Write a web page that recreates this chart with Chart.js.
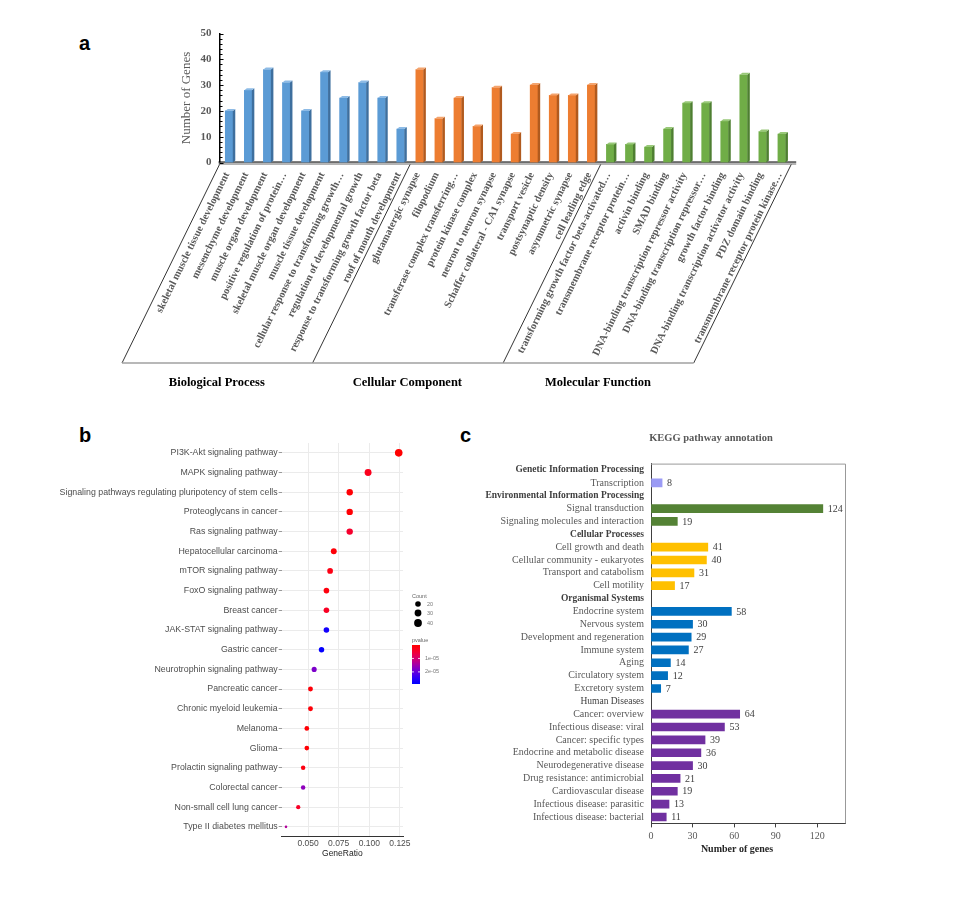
<!DOCTYPE html>
<html>
<head>
<meta charset="utf-8">
<script src="https://cdn.jsdelivr.net/npm/chart.js@4.4.1/dist/chart.umd.min.js"></script>
<style>
  body { margin: 0; background: #fff; width: 954px; height: 909px; position: relative; overflow: hidden; }
  canvas, .tag { position: absolute; }
  .tag { font: bold 20px "Liberation Sans", Arial, sans-serif; line-height: 20px; color: #000; }
</style>
</head>
<body>
<div class="tag" style="left:79px;top:33px">a</div>
<div class="tag" style="left:79px;top:425px">b</div>
<div class="tag" style="left:460px;top:425px">c</div>
<canvas id="goChart" width="710" height="380" style="left:100px;top:25px"></canvas>
<canvas id="dotChart" width="420" height="430" style="left:50px;top:436px"></canvas>
<canvas id="keggChart" width="390" height="440" style="left:470px;top:425px"></canvas>
<script>
// ---------- panel a : GO terms ----------
const goTerms = [
  "skeletal muscle tissue development", "mesenchyme development", "muscle organ development",
  "positive regulation of protein…", "skeletal muscle organ development", "muscle tissue development",
  "cellular response to transforming growth…", "regulation of developmental growth",
  "response to transforming growth factor beta", "roof of mouth development",
  "glutamatergic synapse", "filopodium", "transferase complex transferring…", "protein kinase complex",
  "neuron to neuron synapse", "Schaffer collateral - CA1 synapse", "transport vesicle",
  "postsynaptic density", "asymmetric synapse", "cell leading edge",
  "transforming growth factor beta-activated…", "transmembrane receptor protein…", "activin binding",
  "SMAD binding", "DNA-binding transcription repressor activity", "DNA-binding transcription repressor…",
  "growth factor binding", "DNA-binding transcription activator activity", "PDZ domain binding",
  "transmembrane receptor protein kinase…"
];
const goCounts = [20, 28, 36, 31, 20, 35, 25, 31, 25, 13,
                  36, 17, 25, 14, 29, 11, 30, 26, 26, 30,
                  7, 7, 6, 13, 23, 23, 16, 34, 12, 11];
const goGroups = ["Biological Process", "Cellular Component", "Molecular Function"];
const goGroupSizes = [10, 10, 10];

// ---------- panel b : KEGG dot plot ----------
const dotPathways = [
  "PI3K-Akt signaling pathway", "MAPK signaling pathway",
  "Signaling pathways regulating pluripotency of stem cells", "Proteoglycans in cancer",
  "Ras signaling pathway", "Hepatocellular carcinoma", "mTOR signaling pathway",
  "FoxO signaling pathway", "Breast cancer", "JAK-STAT signaling pathway", "Gastric cancer",
  "Neurotrophin signaling pathway", "Pancreatic cancer", "Chronic myeloid leukemia", "Melanoma",
  "Glioma", "Prolactin signaling pathway", "Colorectal cancer", "Non-small cell lung cancer",
  "Type II diabetes mellitus"
];
const geneRatio = [0.124, 0.099, 0.084, 0.084, 0.084, 0.071, 0.068, 0.065, 0.065, 0.065,
                   0.061, 0.055, 0.052, 0.052, 0.049, 0.049, 0.046, 0.046, 0.042, 0.032];
const geneCount = [38, 31, 26, 26, 26, 22, 21, 20, 20, 20, 19, 17, 16, 16, 15, 15, 14, 14, 13, 10];
const pValue = [0.01e-5, 0.30e-5, 0.06e-5, 0.06e-5, 0.45e-5, 0.09e-5, 0.21e-5, 0.15e-5, 0.36e-5, 2.70e-5,
                2.85e-5, 1.80e-5, 0.09e-5, 0.09e-5, 0.06e-5, 0.06e-5, 0.18e-5, 1.65e-5, 0.39e-5, 1.35e-5];
const countBreaks = [20, 30, 40];
const pBreaks = [1e-5, 2e-5];

// ---------- panel c : KEGG classes ----------
const keggClasses = ["Genetic Information Processing", "Environmental Information Processing",
  "Cellular Processes", "Organismal Systems", "Human Diseases"];
const keggPathways = [
  "Transcription",
  "Signal transduction", "Signaling molecules and interaction",
  "Cell growth and death", "Cellular community - eukaryotes", "Transport and catabolism", "Cell motility",
  "Endocrine system", "Nervous system", "Development and regeneration", "Immune system", "Aging",
  "Circulatory system", "Excretory system",
  "Cancer: overview", "Infectious disease: viral", "Cancer: specific types", "Endocrine and metabolic disease",
  "Neurodegenerative disease", "Drug resistance: antimicrobial", "Cardiovascular disease",
  "Infectious disease: parasitic", "Infectious disease: bacterial"
];
const keggCounts = [8, 124, 19, 41, 40, 31, 17, 58, 30, 29, 27, 14, 12, 7, 64, 53, 39, 36, 30, 21, 19, 13, 11];
const keggClassOf = [0, 1, 1, 2, 2, 2, 2, 3, 3, 3, 3, 3, 3, 3, 4, 4, 4, 4, 4, 4, 4, 4, 4];

const SERIF = "'Liberation Serif', 'Times New Roman', serif";
const SANS = "'Liberation Sans', Arial, sans-serif";

// ================= panel a =================
const goFront = ["#5B9BD5", "#ED7D31", "#70AD47"];
const goSide = ["#3E6F9E", "#B15A1E", "#4E7F31"];
const goTop = ["#8DBBE6", "#F4A46E", "#98C878"];
const goGroupOf = [];
goGroupSizes.forEach((n, g) => { for (let k = 0; k < n; k++) goGroupOf.push(g); });

const goDecor = {
  id: "goDecor",
  beforeDatasetsDraw(chart) {
    const { ctx, chartArea: a, scales: { y } } = chart;
    const y0 = y.getPixelForValue(0);
    ctx.save();
    ctx.fillStyle = "#B4B4B4";
    ctx.fillRect(a.left - 1, y0, a.right - a.left + 6, 2.5);
    ctx.strokeStyle = "#000";
    ctx.lineWidth = 1.2;
    ctx.beginPath();
    ctx.moveTo(a.left - 1, y0 - 0.5);
    ctx.lineTo(a.right + 5, y0 - 0.5);
    ctx.stroke();
    // small minor ticks on the value axis
    ctx.lineWidth = 1;
    for (let v = 0; v <= 50; v += 2) {
      const py = Math.round(y.getPixelForValue(v)) + 0.5;
      ctx.beginPath();
      ctx.moveTo(a.left, py);
      ctx.lineTo(a.left + (v % 10 === 0 ? 4 : 3), py);
      ctx.stroke();
    }
    ctx.restore();
  },
  afterDatasetsDraw(chart) {
    const ctx = chart.ctx;
    const dx = 2.5, dy = 2;
    ctx.save();
    chart.getDatasetMeta(0).data.forEach((bar, i) => {
      const g = goGroupOf[i];
      const hw = bar.width / 2;
      const r = bar.x + hw, l = bar.x - hw;
      ctx.fillStyle = goSide[g];
      ctx.beginPath();
      ctx.moveTo(r, bar.y); ctx.lineTo(r + dx, bar.y - dy);
      ctx.lineTo(r + dx, bar.base - dy); ctx.lineTo(r, bar.base);
      ctx.closePath(); ctx.fill();
      ctx.fillStyle = goTop[g];
      ctx.beginPath();
      ctx.moveTo(l, bar.y); ctx.lineTo(l + dx, bar.y - dy);
      ctx.lineTo(r + dx, bar.y - dy); ctx.lineTo(r, bar.y);
      ctx.closePath(); ctx.fill();
    });
    ctx.restore();
  },
  afterDraw(chart) {
    const { ctx, scales: { x, y } } = chart;
    const y0 = y.getPixelForValue(0);
    ctx.save();
    // rotated category labels
    ctx.font = "bold 10.5px " + SERIF;
    ctx.fillStyle = "#595959";
    ctx.textAlign = "right";
    ctx.textBaseline = "middle";
    goTerms.forEach((t, i) => {
      ctx.save();
      ctx.translate(x.getPixelForValue(i) - 2, y0 + 10.5);
      ctx.rotate(-64 * Math.PI / 180);
      ctx.fillText(t, 0, 0);
      ctx.restore();
    });
    // slanted group separators
    const bounds = [-0.5];
    let acc = -0.5;
    goGroupSizes.forEach(n => { acc += n; bounds.push(acc); });
    const tops = bounds.map(b => x.getPixelForValue(b));
    const yTop = y0 + 2, yBot = y0 + 200.5, shift = -97.5;
    ctx.strokeStyle = "#000";
    ctx.lineWidth = 0.8;
    tops.forEach(px => {
      ctx.beginPath();
      ctx.moveTo(px, yTop);
      ctx.lineTo(px + shift, yBot);
      ctx.stroke();
    });
    ctx.strokeStyle = "#A0A0A0";
    ctx.lineWidth = 1.5;
    ctx.beginPath();
    ctx.moveTo(tops[0] + shift, yBot);
    ctx.lineTo(tops[tops.length - 1] + shift, yBot);
    ctx.stroke();
    // group names
    ctx.font = "bold 12.5px " + SERIF;
    ctx.fillStyle = "#000";
    ctx.textAlign = "center";
    goGroups.forEach((name, g) => {
      ctx.fillText(name, (tops[g] + tops[g + 1]) / 2 - 98, y0 + 220);
    });
    // value axis title
    ctx.save();
    ctx.translate(87, 73);
    ctx.rotate(-Math.PI / 2);
    ctx.font = "13px " + SERIF;
    ctx.fillStyle = "#595959";
    ctx.fillText("Number of Genes", 0, 0);
    ctx.restore();
    ctx.restore();
  }
};

new Chart(document.getElementById("goChart"), {
  type: "bar",
  data: {
    labels: goTerms,
    datasets: [{
      data: goCounts,
      backgroundColor: goGroupOf.map(g => goFront[g]),
      borderWidth: 0,
      barThickness: 7.5
    }]
  },
  options: {
    responsive: false,
    animation: false,
    layout: { padding: { top: 8.5, right: 18.8, bottom: 242.5, left: 0 } },
    plugins: { legend: { display: false }, tooltip: { enabled: false } },
    scales: {
      x: { display: false },
      y: {
        min: 0, max: 50,
        grid: { display: false, drawTicks: false },
        border: { display: true, color: "#000", width: 1.5 },
        ticks: { stepSize: 10, padding: 8, color: "#595959", font: { family: SERIF, size: 11, weight: "bold" } },
        afterFit: s => { s.width = 119.5; s.paddingTop = 0; s.paddingBottom = 0; }
      }
    }
  },
  plugins: [goDecor]
});

// ================= panel b =================
const cMin = Math.min(...geneCount), cMax = Math.max(...geneCount);
const pMax = 2.9e-5;
const radiusOf = c => 1.3 + Math.sqrt(Math.max(0, Math.min(1.1, (c - cMin) / (cMax - cMin)))) * 2.5;
const colourOf = p => {
  const t = Math.max(0, Math.min(1, p / pMax));
  const bump = 1 + 0.3 * Math.sin(Math.PI * t);
  const r = Math.min(255, 255 * (1 - t) * bump), b = Math.min(255, 255 * t * bump);
  return `rgb(${Math.round(r)},0,${Math.round(b)})`;
};

const dotLegend = {
  id: "dotLegend",
  afterDraw(chart) {
    const { ctx, chartArea: a } = chart;
    ctx.save();
    ctx.font = "8.5px " + SANS;
    ctx.fillStyle = "#1A1A1A";
    ctx.textAlign = "center";
    ctx.textBaseline = "middle";
    ctx.fillText("GeneRatio", (a.left + a.right) / 2, 418);
    // size legend
    ctx.font = "5.5px " + SANS;
    ctx.fillStyle = "#666";
    ctx.textAlign = "left";
    ctx.fillText("Count", 362, 160);
    const ys = [168, 177, 187];
    countBreaks.forEach((c, i) => {
      ctx.fillStyle = "#000";
      ctx.beginPath();
      ctx.arc(368, ys[i], radiusOf(c), 0, Math.PI * 2);
      ctx.fill();
      ctx.fillStyle = "#777";
      ctx.fillText(String(c), 377, ys[i]);
    });
    // colour legend
    ctx.fillStyle = "#666";
    ctx.fillText("pvalue", 362, 204);
    const top = 209, bot = 248;
    const grad = ctx.createLinearGradient(0, top, 0, bot);
    for (let k = 0; k <= 10; k++) grad.addColorStop(k / 10, colourOf(pMax * k / 10));
    ctx.fillStyle = grad;
    ctx.fillRect(362, top, 8, bot - top);
    pBreaks.forEach(p => {
      const py = top + (bot - top) * p / pMax;
      ctx.strokeStyle = "#fff";
      ctx.lineWidth = 0.8;
      ctx.beginPath();
      ctx.moveTo(362, py); ctx.lineTo(364, py);
      ctx.moveTo(368, py); ctx.lineTo(370, py);
      ctx.stroke();
      ctx.fillStyle = "#777";
      ctx.fillText(p.toExponential(0).replace("e-", "e-0"), 375, py);
    });
    ctx.restore();
  }
};

new Chart(document.getElementById("dotChart"), {
  type: "scatter",
  data: {
    datasets: [{
      data: dotPathways.map((p, i) => ({ x: geneRatio[i], y: p })),
      pointRadius: geneCount.map(radiusOf),
      pointBackgroundColor: pValue.map(colourOf),
      pointBorderWidth: 0
    }]
  },
  options: {
    responsive: false,
    animation: false,
    layout: { padding: { top: 7, right: 67, left: 0, bottom: 0 } },
    plugins: { legend: { display: false }, tooltip: { enabled: false } },
    scales: {
      x: {
        type: "linear", min: 0.0285, max: 0.1275,
        grid: { color: "#EBEBEB", drawTicks: false },
        border: { display: true, color: "#333", width: 1 },
        ticks: { stepSize: 0.025, includeBounds: false, padding: 2, color: "#4D4D4D",
                 font: { family: SANS, size: 8.5 }, callback: v => v.toFixed(3) },
        afterFit: s => { s.height = 29.3; }
      },
      y: {
        type: "category", labels: dotPathways, offset: true,
        grid: { color: "#EBEBEB", tickColor: "#999", tickLength: 3, offset: false },
        border: { display: false },
        ticks: { autoSkip: false, padding: 1, color: "#4D4D4D", font: { family: SANS, size: 8.8 } },
        afterFit: s => { s.width = 231.7; }
      }
    }
  },
  plugins: [dotLegend]
});

// ================= panel c =================
const classColours = ["#9B9BF5", "#548235", "#FFC000", "#0070C0", "#7030A0"];
const rowLabels = [], rowValues = [], rowClass = [], rowHeader = [];
keggClasses.forEach((name, c) => {
  rowLabels.push(name); rowValues.push(null); rowClass.push(c); rowHeader.push(true);
  keggPathways.forEach((p, i) => {
    if (keggClassOf[i] !== c) return;
    rowLabels.push(p); rowValues.push(keggCounts[i]); rowClass.push(c); rowHeader.push(false);
  });
});
const lastClass = keggClasses.length - 1;

const keggDecor = {
  id: "keggDecor",
  afterDraw(chart) {
    const { ctx, chartArea: a } = chart;
    ctx.save();
    // frame top and right
    ctx.strokeStyle = "#999";
    ctx.lineWidth = 1;
    ctx.beginPath();
    ctx.moveTo(a.left, a.top + 0.5); ctx.lineTo(a.right + 0.5, a.top + 0.5);
    ctx.lineTo(a.right + 0.5, a.bottom);
    ctx.stroke();
    // value labels
    ctx.font = "10px " + SERIF;
    ctx.fillStyle = "#404040";
    ctx.textAlign = "left";
    ctx.textBaseline = "middle";
    chart.getDatasetMeta(0).data.forEach((bar, i) => {
      if (rowValues[i] == null) return;
      ctx.fillText(String(rowValues[i]), bar.x + 5, bar.y + 0.5);
    });
    // titles
    ctx.textAlign = "center";
    ctx.font = "bold 10.5px " + SERIF;
    ctx.fillStyle = "#595959";
    ctx.fillText("KEGG pathway annotation", 241, 13);
    ctx.font = "bold 10px " + SERIF;
    ctx.fillStyle = "#262626";
    ctx.fillText("Number of genes", 267, 424);
    ctx.restore();
  }
};

new Chart(document.getElementById("keggChart"), {
  type: "bar",
  data: {
    labels: rowLabels,
    datasets: [{
      data: rowValues,
      backgroundColor: rowClass.map(c => classColours[c]),
      borderWidth: 0,
      barThickness: 8
    }]
  },
  options: {
    indexAxis: "y",
    responsive: false,
    animation: false,
    layout: { padding: { top: 38.6, right: 15, left: 0, bottom: 0 } },
    plugins: { legend: { display: false }, tooltip: { enabled: false } },
    scales: {
      y: {
        grid: { display: false, drawTicks: false },
        border: { display: true, color: "#404040", width: 1 },
        ticks: {
          autoSkip: false, padding: 7,
          color: ctx => rowHeader[ctx.index] ? "#404040" : "#595959",
          font: ctx => rowHeader[ctx.index]
            ? { family: SERIF, size: 9.5, weight: rowClass[ctx.index] === lastClass ? "normal" : "bold" }
            : { family: SERIF, size: 10 }
        },
        afterFit: s => { s.width = 181; }
      },
      x: {
        min: 0, max: 140,
        grid: { drawOnChartArea: false, tickLength: 4, color: "#404040" },
        border: { display: true, color: "#404040", width: 1 },
        ticks: { stepSize: 30, includeBounds: false, padding: 3, color: "#595959", font: { family: SERIF, size: 10 } },
        afterFit: s => { s.height = 41.6; }
      }
    }
  },
  plugins: [keggDecor]
});
</script>
</body>
</html>
